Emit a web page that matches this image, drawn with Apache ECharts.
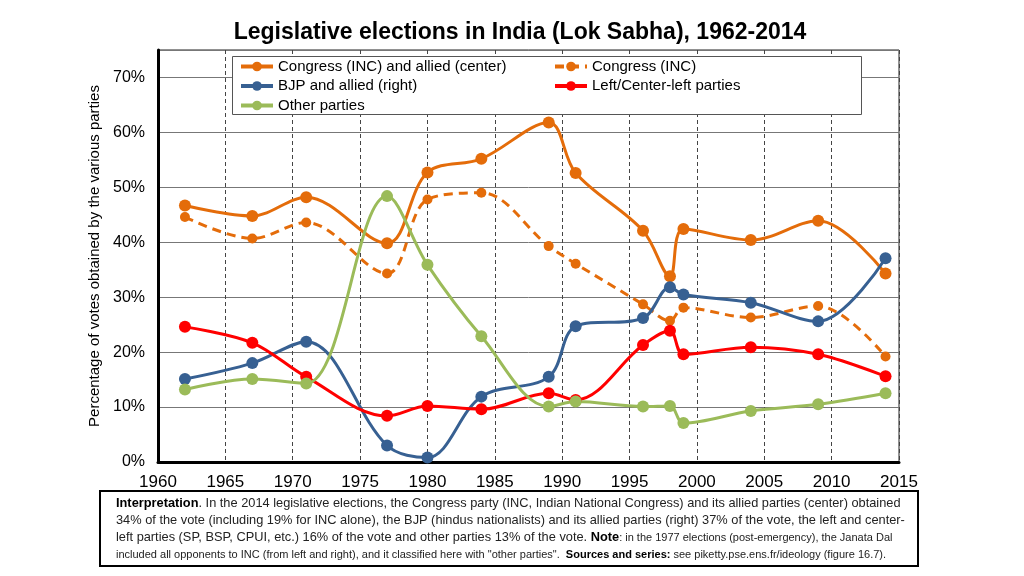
<!DOCTYPE html>
<html><head><meta charset="utf-8">
<script src="https://cdn.jsdelivr.net/npm/echarts@6/dist/echarts.min.js"></script>
<style>html,body{margin:0;padding:0;background:#fff}#c{width:1024px;height:576px}</style>
</head><body><div id="c"></div>
<script>
const years = [1962, 1967, 1971, 1977, 1980, 1984, 1989, 1991, 1996, 1998, 1999, 2004, 2009, 2014];
const incAllied = [46.7, 44.8, 48.2, 39.8, 52.7, 55.2, 61.8, 52.6, 42.1, 33.8, 42.4, 40.4, 43.9, 34.3];
const incAlone = [44.6, 40.7, 43.6, 34.3, 47.8, 49.0, 39.3, 36.1, 28.7, 25.7, 28.1, 26.3, 28.4, 19.2];
const bjp = [15.1, 18.0, 21.9, 3.0, 0.8, 11.9, 15.5, 24.7, 26.2, 31.8, 30.5, 29.0, 25.6, 37.1];
const left = [24.6, 21.7, 15.5, 8.4, 10.2, 9.6, 12.5, 11.3, 21.3, 23.9, 19.6, 20.9, 19.6, 15.6];
const other = [13.2, 15.1, 14.3, 48.4, 35.9, 22.9, 10.1, 11.0, 10.1, 10.2, 7.1, 9.3, 10.5, 12.5];
const names = ['Congress (INC) and allied (center)', 'Congress (INC)', 'BJP and allied (right)', 'Left/Center-left parties', 'Other parties'];
const colors = ['#E46C0A', '#E46C0A', '#376092', '#FF0000', '#9BBB59'];
const xTicks = [1960, 2015, 5];
const yTicks = [0, 75, 10];

const pair = arr => years.map((y, i) => [y, arr[i]]);
function mk(i, arr, dashed) {
  return {
    name: names[i], type: 'line', data: pair(arr), smooth: 0.35,
    symbol: 'circle', symbolSize: dashed ? 10 : 12,
    itemStyle: { color: colors[i] },
    lineStyle: { color: colors[i], width: 3, type: dashed ? [9, 6] : 'solid' },
    z: dashed ? 2 : 3
  };
}
const chart = echarts.init(document.getElementById('c'));
const F = 'Arial, "Liberation Sans", sans-serif';
const NF = '"Liberation Sans Narrow", "Arial Narrow", "Liberation Sans", sans-serif';
const legendCommon = { orient: 'vertical', top: 59, itemGap: 4.5, z: 10, padding: 0,
  itemWidth: 32, itemHeight: 12, lineStyle: { width: 4 },
  textStyle: { fontSize: 15, color: '#000', fontFamily: F } };
chart.setOption({
  animation: false,
  textStyle: { fontFamily: F },
  title: { text: 'Legislative elections in India (Lok Sabha), 1962-2014', left: 515, textAlign: 'center', top: 16,
    textStyle: { fontSize: 23, fontWeight: 'bold', color: '#000', fontFamily: F } },
  grid: { left: 158, right: 125, top: 50, bottom: 114, show: true, borderColor: '#222', borderWidth: 1 },
  legend: [
    Object.assign({ data: [names[0], names[2], names[4]], left: 239 }, legendCommon),
    Object.assign({ data: [names[1], names[3]], left: 553 }, legendCommon)
  ],
  xAxis: { type: 'value', min: xTicks[0], max: xTicks[1], interval: xTicks[2],
    axisLine: { show: true, lineStyle: { color: '#000', width: 3 } },
    axisTick: { show: false },
    axisLabel: { fontSize: 17, color: '#000', margin: 12, formatter: v => String(v) },
    splitLine: { show: true, lineStyle: { color: '#444', type: [4, 3], width: 1 } } },
  yAxis: { type: 'value', min: yTicks[0], max: yTicks[1], interval: yTicks[2],
    name: 'Percentage of votes obtained by the various parties', nameLocation: 'middle', nameGap: 47,
    nameTextStyle: { fontSize: 15, color: '#000' },
    axisLine: { show: true, lineStyle: { color: '#000', width: 3 } },
    axisTick: { show: false },
    axisLabel: { fontSize: 16, color: '#000', margin: 13, formatter: v => v === 75 ? '' : v + '%' },
    splitLine: { show: true, lineStyle: { color: '#777', width: 1 } } },
  series: [mk(0, incAllied, false), mk(1, incAlone, true), mk(2, bjp, false), mk(3, left, false), mk(4, other, false)],
  graphic: [
    { type: 'rect', z: 8, shape: { x: 232.5, y: 56.5, width: 629, height: 58 }, style: { fill: '#fff', stroke: '#555', lineWidth: 1 } },
    { type: 'rect', shape: { x: 100, y: 491, width: 818, height: 75 }, style: { fill: '#fff', stroke: '#000', lineWidth: 2 } },
    { type: 'text', left: 116, top: 495, style: {
      text: '{b|Interpretation}. In the 2014 legislative elections, the Congress party (INC, Indian National Congress) and its allied parties (center) obtained\n' +
            '34% of the vote (including 19% for INC alone), the BJP (hindus nationalists) and its allied parties (right) 37% of the vote, the left and center-\n' +
            'left parties (SP, BSP, CPUI, etc.) 16% of the vote and other parties 13% of the vote. {b|Note}{s|: in the 1977 elections (post-emergency), the Janata Dal}\n' +
            '{s|included all opponents to INC (from left and right), and it classified here with "other parties".  }{bs|Sources and series:}{s| see piketty.pse.ens.fr/ideology (figure 16.7).}',
      font: '12.8px ' + NF, fill: '#222', lineHeight: 17,
      rich: {
        b: { fontWeight: 'bold', fontSize: 12.8, fontFamily: NF, fill: '#000', lineHeight: 17 },
        s: { fontSize: 11, fontFamily: NF, fill: '#222', lineHeight: 17 },
        bs: { fontWeight: 'bold', fontSize: 11, fontFamily: NF, fill: '#000', lineHeight: 17 }
      } } }
  ]
});
</script></body></html>
